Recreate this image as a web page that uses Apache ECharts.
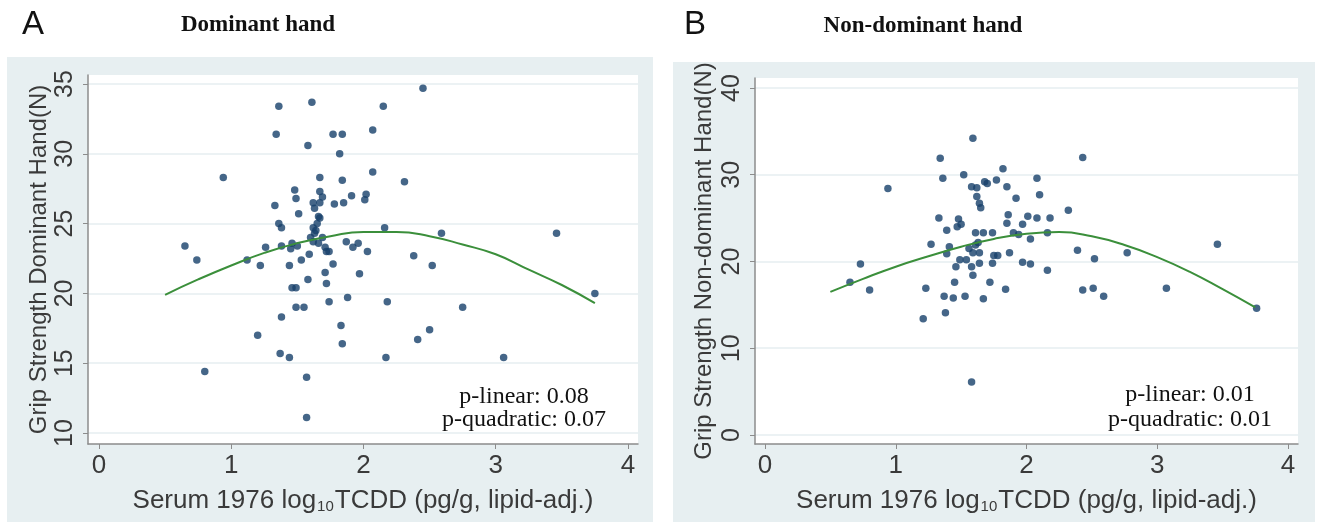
<!DOCTYPE html>
<html>
<head>
<meta charset="utf-8">
<script src="https://cdn.jsdelivr.net/npm/echarts@6.0.0/dist/echarts.min.js"></script>
<style>
html,body{margin:0;padding:0;background:#fff}
#chart{width:1320px;height:523px}
</style>
</head>
<body>
<div id="chart"></div>
<script>
// serum log10 TCDD vs grip strength, dominant hand (panel A)
var domX = [0.65,0.74,0.80,0.94,1.12,1.22,1.20,1.26,1.33,1.34,1.36,1.36,1.38,1.38,1.37,1.44,1.38,1.44,1.45,1.46,
  1.46,1.49,1.48,1.49,1.51,1.49,1.55,1.53,1.50,1.57,1.57,1.58,1.61,1.58,1.59,1.67,1.62,1.63,1.62,1.65,
  1.66,1.63,1.62,1.67,1.69,1.67,1.69,1.71,1.72,1.71,1.72,1.77,1.84,1.82,1.84,1.78,1.85,1.91,2.02,2.01,
  2.07,2.15,2.45,2.07,2.31,1.67,2.16,2.59,3.46,3.75,1.87,1.92,1.96,2.03,1.74,2.38,2.52,1.77,1.97,1.74,
  1.88,2.18,2.75,1.83,1.84,2.50,2.41,2.17,3.06,1.64,1.60,1.66];
var domY = [23.4,22.4,14.4,28.3,22.4,22.0,17.0,23.3,26.3,31.4,33.4,25.0,24.7,18.3,15.7,15.4,23.4,22.0,23.2,23.6,
  20.4,20.4,27.4,26.8,25.7,19.0,19.0,22.4,23.4,14.0,11.1,30.6,33.7,21.0,22.8,28.3,23.7,24.3,24.7,25.0,
  25.5,26.1,26.5,26.5,26.9,27.3,24.0,23.3,23.0,21.5,20.7,31.4,31.4,30.0,28.1,26.4,26.5,27.0,27.1,26.7,
  31.7,33.4,34.7,28.7,28.0,25.4,24.7,24.3,24.3,20.0,23.7,23.3,23.6,23.0,23.0,22.7,22.0,22.1,21.4,19.4,
  19.7,19.4,19.0,17.7,16.4,17.4,16.7,15.4,15.4,24.5,24.0,23.6];
// quadratic fit
var domFitX = [0.5,0.75,1.0,1.25,1.5,1.75,2.0,2.25,2.5,2.75,3.0,3.25,3.5,3.75];
var domFitY = [19.9,21.0,22.0,22.9,23.6,24.1,24.4,24.4,24.1,23.5,22.8,21.7,20.6,19.3];

// non-dominant hand (panel B)
var nonX = [0.65,0.73,0.80,0.94,1.21,1.23,1.27,1.34,1.33,1.36,1.37,1.38,1.39,1.39,1.41,1.44,1.45,1.46,1.47,1.48,
  1.50,1.49,1.52,1.53,1.54,1.58,1.59,1.58,1.62,1.62,1.64,1.65,1.61,1.59,1.58,1.59,1.61,1.67,1.67,1.68,
  1.64,1.70,1.77,1.82,1.85,1.92,2.08,2.10,1.86,1.85,1.97,2.01,2.08,2.18,2.32,1.90,1.94,2.03,2.16,1.74,
  1.87,1.75,1.78,1.64,1.74,1.97,2.03,2.16,2.39,2.52,2.77,3.46,3.07,2.43,2.51,2.59,3.76,2.43,1.84,1.72,
  1.63,1.56];
var nonY = [17.6,19.7,16.7,28.4,13.4,16.9,22.0,31.9,25.0,29.6,16.0,14.1,23.6,20.9,21.7,15.8,17.6,19.4,24.0,24.9,
  24.3,20.2,30.0,16.0,20.2,6.1,34.2,28.6,28.5,27.5,26.7,26.2,21.9,21.0,19.4,18.4,23.3,23.3,15.7,29.2,
  19.8,29.0,29.4,30.7,28.6,27.3,29.6,27.7,25.4,24.4,24.3,25.2,25.0,25.0,25.9,23.3,23.1,22.6,23.3,23.3,
  21.0,20.7,20.7,21.0,19.8,19.9,19.7,19.0,21.3,20.3,21.0,22.0,16.9,16.7,16.9,16.0,14.6,32.0,16.8,17.6,
  22.2,21.5];
var nonFitX = [0.5,0.75,1.0,1.25,1.5,1.75,2.0,2.25,2.5,2.75,3.0,3.25,3.5,3.75];
var nonFitY = [16.5,18.0,19.4,20.6,21.7,22.6,23.2,23.4,22.9,21.9,20.5,18.8,16.8,14.7];

var xTicks = [0,1,2,3,4];
var domTicks = [10,15,20,25,30,35];
var nonTicks = [0,10,20,30,40];

function pairs(xs, ys){
  return xs.map(function(x,i){ return [x, ys[i]]; });
}

var axisGray = '#8c8c8c';
var labelColor = '#3a3a3a';
var dotColor = '#17406a';
var fitColor = '#3b8f3b';
var xName = 'Serum 1976 log{s|10}TCDD (pg/g, lipid-adj.)';

function makeX(idx, min, max){
  return {
    gridIndex: idx, type: 'value', min: min, max: max,
    axisLine: {show: true, onZero: false, lineStyle: {color: axisGray, width: 1.5}},
    axisTick: {show: true, customValues: xTicks, length: 5, lineStyle: {color: axisGray}},
    axisLabel: {customValues: xTicks, fontSize: 26, color: labelColor, margin: 9, fontFamily: 'Liberation Sans'},
    splitLine: {show: false},
    name: xName, nameLocation: 'middle', nameGap: 44,
    nameTextStyle: {fontSize: 26, color: labelColor, fontFamily: 'Liberation Sans',
      rich: {s: {fontSize: 15, color: labelColor, fontFamily: 'Liberation Sans', verticalAlign: 'bottom', padding: [0, 1, 0, 1]}}}
  };
}

function makeY(idx, min, max, ticks, title, gap){
  return {
    gridIndex: idx, type: 'value', min: min, max: max,
    axisLine: {show: true, onZero: false, lineStyle: {color: axisGray, width: 1.5}},
    axisTick: {show: true, customValues: ticks, length: 5, lineStyle: {color: axisGray}},
    axisLabel: {customValues: ticks, rotate: 90, fontSize: 25, color: labelColor, margin: 10, fontFamily: 'Liberation Sans'},
    splitLine: {show: true, lineStyle: {color: '#e6eef0', width: 1.5}},
    name: title, nameLocation: 'middle', nameGap: gap,
    nameTextStyle: {fontSize: 24, color: labelColor, fontFamily: 'Liberation Sans'}
  };
}

function txt(s, x, y, font){
  return {type: 'text', x: x, y: y, z: 10,
    style: {text: s, font: font, fill: '#111', textAlign: 'center', textVerticalAlign: 'middle'}};
}

var chart = echarts.init(document.getElementById('chart'), null, {renderer: 'canvas'});

var option = {
  animation: false,
  backgroundColor: '#fff',
  graphic: [
    {type: 'rect', z: -10, shape: {x: 7, y: 57, width: 646, height: 465}, style: {fill: '#e7eff1'}},
    {type: 'rect', z: -10, shape: {x: 673, y: 62, width: 642, height: 460}, style: {fill: '#e7eff1'}},
    txt('A', 33, 25, '33px "Liberation Sans"'),
    txt('B', 695, 25, '33px "Liberation Sans"'),
    txt('Dominant hand', 258, 25, 'bold 23px "Liberation Serif"'),
    txt('Non-dominant hand', 923, 26, 'bold 23px "Liberation Serif"'),
    txt('p-linear: 0.08', 524, 397, '24px "Liberation Serif"'),
    txt('p-quadratic: 0.07', 524, 420, '24px "Liberation Serif"'),
    txt('p-linear: 0.01', 1190, 395, '24px "Liberation Serif"'),
    txt('p-quadratic: 0.01', 1190, 420, '24px "Liberation Serif"')
  ],
  grid: [
    {left: 88, top: 75, width: 550, height: 369, show: true, backgroundColor: '#fff', borderWidth: 0},
    {left: 755, top: 78, width: 543, height: 366, show: true, backgroundColor: '#fff', borderWidth: 0}
  ],
  xAxis: [makeX(0, -0.083, 4.076), makeX(1, -0.0765, 4.0765)],
  yAxis: [
    makeY(0, 9.21, 35.645, domTicks, 'Grip Strength Dominant Hand(N)', 37),
    makeY(1, -1.04, 41.15, nonTicks, 'Grip Strength Non-dominant Hand(N)', 39)
  ],
  series: [
    {type: 'scatter', xAxisIndex: 0, yAxisIndex: 0, data: pairs(domX, domY), symbolSize: 7.5,
      itemStyle: {color: dotColor}, z: 3},
    {type: 'line', xAxisIndex: 0, yAxisIndex: 0, data: pairs(domFitX, domFitY), smooth: true, showSymbol: false,
      lineStyle: {color: fitColor, width: 2}, z: 4},
    {type: 'scatter', xAxisIndex: 1, yAxisIndex: 1, data: pairs(nonX, nonY), symbolSize: 7.5,
      itemStyle: {color: dotColor}, z: 3},
    {type: 'line', xAxisIndex: 1, yAxisIndex: 1, data: pairs(nonFitX, nonFitY), smooth: true, showSymbol: false,
      lineStyle: {color: fitColor, width: 2}, z: 4}
  ]
};

chart.setOption(option);
</script>
</body>
</html>
